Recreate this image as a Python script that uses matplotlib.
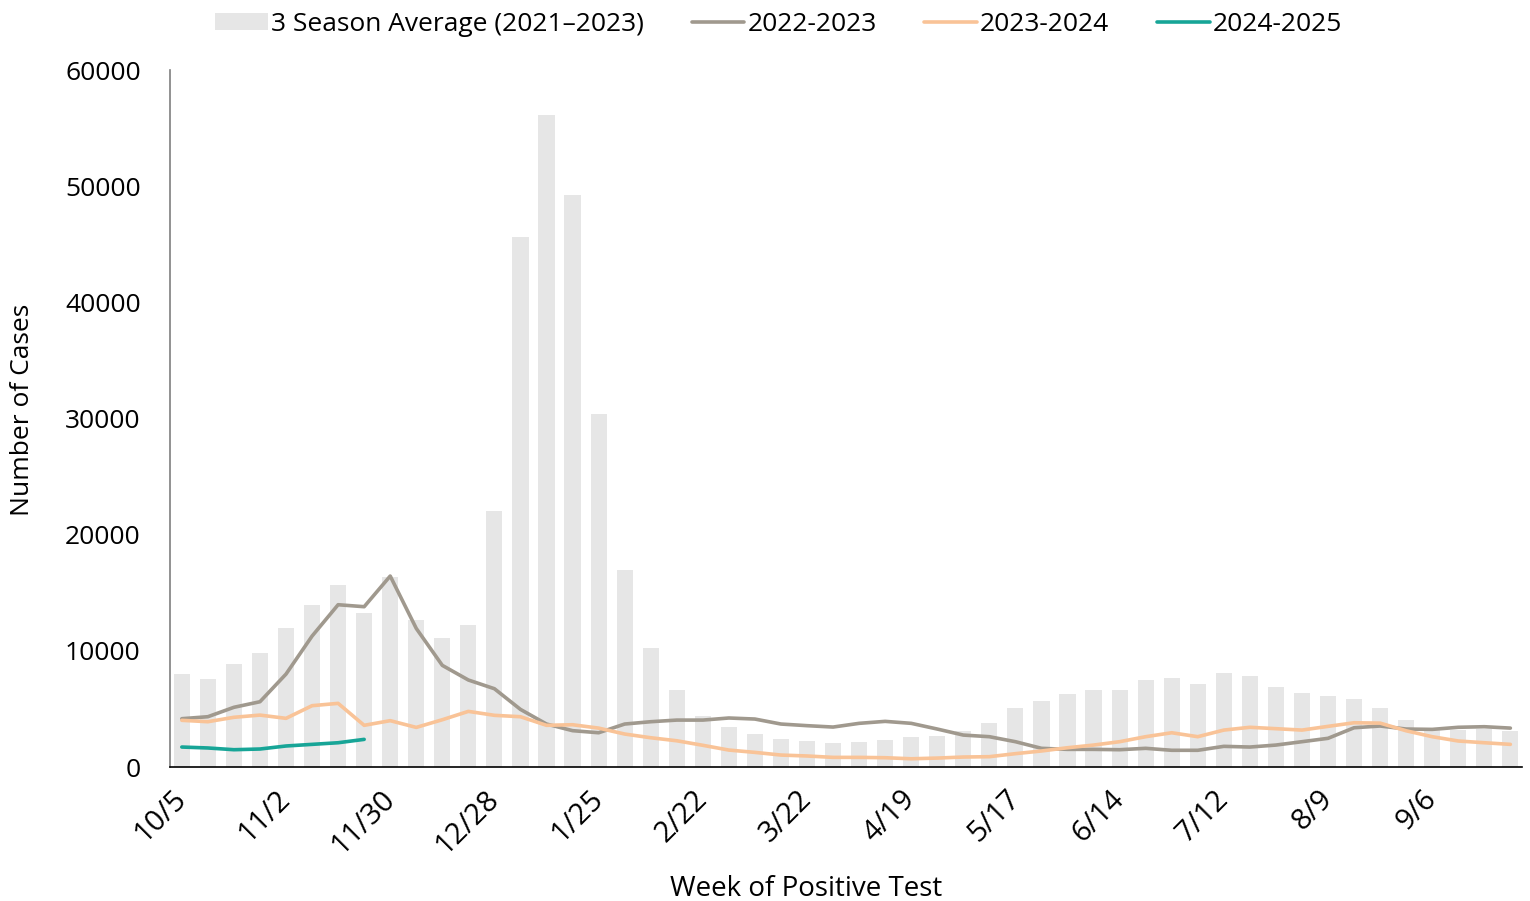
import matplotlib
matplotlib.use("Agg")
import matplotlib.pyplot as plt
import numpy as np

plt.rcParams['font.family'] = ['Open Sans', 'DejaVu Sans']

# week labels (every 4th week is shown on the axis)
weeks = ['10/5', '10/12', '10/19', '10/26', '11/2', '11/9', '11/16', '11/23',
         '11/30', '12/7', '12/14', '12/21', '12/28', '1/4', '1/11', '1/18',
         '1/25', '2/1', '2/8', '2/15', '2/22', '3/1', '3/8', '3/15',
         '3/22', '3/29', '4/5', '4/12', '4/19', '4/26', '5/3', '5/10',
         '5/17', '5/24', '5/31', '6/7', '6/14', '6/21', '6/28', '7/5',
         '7/12', '7/19', '7/26', '8/2', '8/9', '8/16', '8/23', '8/30',
         '9/6', '9/13', '9/20', '9/27']

avg_3season = [8000, 7570, 8860, 9810, 11990, 13920, 15690, 13280,
               16320, 12680, 11100, 12250, 22000, 45650, 56150, 49200,
               30400, 16950, 10220, 6600, 4390, 3440, 2840, 2380,
               2210, 2090, 2180, 2320, 2560, 2700, 3070, 3790,
               5080, 5680, 6280, 6620, 6630, 7490, 7660, 7140,
               8090, 7860, 6880, 6370, 6110, 5850, 5080, 4040,
               3360, 3180, 3250, 3100]

s2022_23 = [4160, 4330, 5140, 5620, 8000, 11270, 13970, 13800,
            16440, 11930, 8750, 7490, 6740, 4960, 3700, 3130,
            2950, 3700, 3900, 4040, 4040, 4220, 4130, 3700,
            3560, 3440, 3760, 3930, 3760, 3270, 2750, 2610,
            2180, 1610, 1520, 1520, 1490, 1610, 1440, 1440,
            1780, 1720, 1890, 2180, 2470, 3380, 3530, 3270,
            3240, 3420, 3470, 3350]

s2023_24 = [4020, 3900, 4280, 4470, 4190, 5280, 5480, 3590,
            3990, 3410, 4070, 4790, 4450, 4330, 3590, 3640,
            3350, 2840, 2520, 2260, 1870, 1460, 1260, 1030,
            950, 830, 830, 800, 710, 770, 860, 890,
            1150, 1380, 1660, 1890, 2180, 2610, 2950, 2610,
            3180, 3420, 3300, 3180, 3500, 3810, 3780, 3120,
            2610, 2240, 2090, 1950]

s2024_25 = [1720, 1640, 1490, 1550, 1810, 1950, 2090, 2380]

x = np.arange(len(weeks))

fig = plt.figure(figsize=(15.3, 9.01), dpi=100)
ax = fig.add_axes([0.111, 0.1487, 0.884, 0.7736])

bars = ax.bar(x, avg_3season, width=0.62, color='#e6e6e6',
              label='3 Season Average (2021\u20132023)', zorder=1)
l1, = ax.plot(x, s2022_23, color='#a0998e', lw=2.6, label='2022-2023',
              solid_capstyle='round', zorder=3)
l2, = ax.plot(x, s2023_24, color='#f9c397', lw=2.6, label='2023-2024',
              solid_capstyle='round', zorder=3)
l3, = ax.plot(x[:len(s2024_25)], s2024_25, color='#17a597', lw=2.6,
              label='2024-2025', solid_capstyle='round', zorder=4)

ax.set_xlim(-0.46, 51.46)
ax.set_ylim(0, 60000)
ax.set_yticks(np.arange(0, 60001, 10000))
ax.set_xticks(x[::4])
ax.set_xticklabels(weeks[::4], rotation=45, ha='right', va='center',
                   rotation_mode='anchor')
ax.tick_params(axis='both', length=0)
ax.tick_params(axis='y', pad=21, labelsize=19)
ax.tick_params(axis='x', pad=20, labelsize=21)

for s in ['top', 'right']:
    ax.spines[s].set_visible(False)
ax.spines['left'].set_color('#7f7f7f')
ax.spines['bottom'].set_color('black')
ax.spines['left'].set_linewidth(1.2)
ax.spines['bottom'].set_linewidth(1.2)

fig.text(0.0145, 0.545, 'Number of Cases', rotation=90, ha='center',
         va='center', fontsize=19)
fig.text(0.527, 0.0135, 'Week of Positive Test', ha='center', va='center',
         fontsize=20)

fig.legend(handles=[bars, l1, l2, l3], loc='center',
           bbox_to_anchor=(0.509, 0.973), ncol=4, frameon=False, fontsize=19,
           handlelength=2.0, handletextpad=0.12, columnspacing=1.8,
           handleheight=0.6)

fig.savefig('out.png', dpi=100)
